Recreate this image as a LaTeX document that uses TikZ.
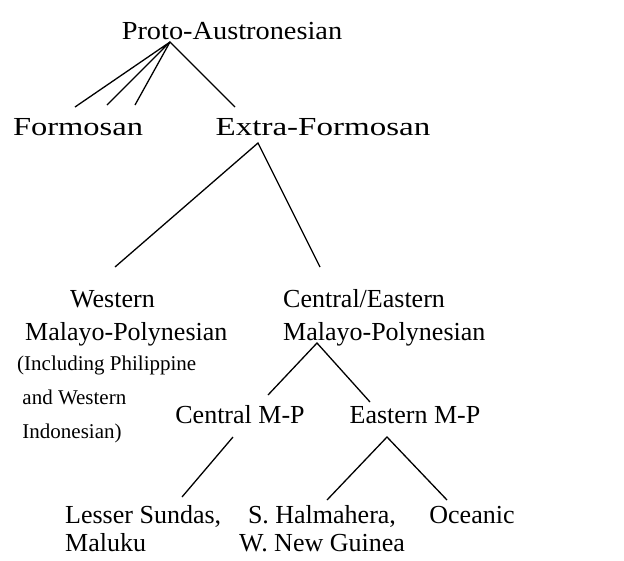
\documentclass[tikz,border=0pt]{standalone}
\usepackage{graphicx}
\usepackage{fontspec}
\setmainfont{Liberation Serif}
\newcommand{\widetext}[2]{\scalebox{#1}[1]{#2}}

\begin{document}
\begin{tikzpicture}[x=1pt,y=-1pt,
	lang/.style={inner sep=0pt, anchor=base, align=center, font=\fontsize{26}{33}\selectfont},
	note/.style={inner sep=0pt, anchor=base west, align=left, font=\fontsize{21}{34}\selectfont},
	branch/.style={line width=1.3pt}]
\useasboundingbox (0,0) rectangle (624,560);

% languages (multi-line nodes sit on their last baseline)
\node[lang] (proto) at (232,39) {\widetext{1.09}{Proto-Austronesian}};
\node[lang] (formosan) at (78,135) {\widetext{1.25}{Formosan}};
\node[lang] (extra) at (323,135) {\widetext{1.27}{Extra-Formosan}};
\node[lang, align=left, anchor=base west] (wmp) at (25,340) {\hspace*{45pt}Western\\Malayo-Polynesian};
\node[lang, align=left, anchor=base west] (cemp) at (283,340) {Central/Eastern\\Malayo-Polynesian};
\node[note] (wmpnote) at (17,438) {(Including Philippine\\ \ and Western\\ \ Indonesian)};
\node[lang] (cmp) at (240,423) {Central M-P};
\node[lang] (emp) at (415,423) {Eastern M-P};
\node[lang, align=left, anchor=base west, font=\fontsize{26}{28}\selectfont] (sundas) at (65,551) {Lesser Sundas,\\Maluku};
\node[lang, font=\fontsize{26}{28}\selectfont] (halma) at (322,551) {S. Halmahera,\\W. New Guinea};
\node[lang] (oceanic) at (472,523) {Oceanic};

% branch points
\coordinate (paroot) at (170,42);
\coordinate (efroot) at (258,143);
\coordinate (cemproot) at (317,343);
\coordinate (cmproot) at (233,437);
\coordinate (emproot) at (387,437);

% branch ends
\coordinate (fa) at (75,107);
\coordinate (fb) at (107,105);
\coordinate (fc) at (135,105);
\coordinate (ef) at (235,107);
\coordinate (wmptop) at (115,267);
\coordinate (cemptop) at (320,267);
\coordinate (cmptop) at (268,395);
\coordinate (emptop) at (370,402);
\coordinate (sundastop) at (182,497);
\coordinate (halmatop) at (327,500);
\coordinate (oceanictop) at (447,500);

\draw[branch] (fa) -- (paroot) -- (fb);
\draw[branch] (fc) -- (paroot) -- (ef);
\draw[branch] (wmptop) -- (efroot) -- (cemptop);
\draw[branch] (cmptop) -- (cemproot) -- (emptop);
\draw[branch] (cmproot) -- (sundastop);
\draw[branch] (halmatop) -- (emproot) -- (oceanictop);
\end{tikzpicture}
\end{document}
